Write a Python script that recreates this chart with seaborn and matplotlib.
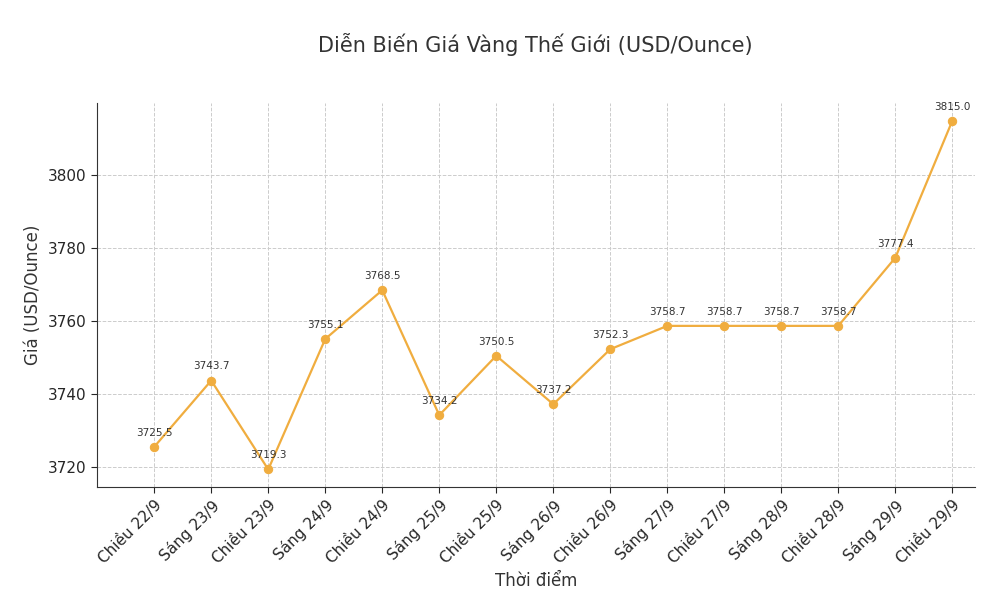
import matplotlib
matplotlib.use("Agg")
import matplotlib.pyplot as plt
import seaborn as sns
import pandas as pd

labels = ["Chiều 22/9","Sáng 23/9","Chiều 23/9","Sáng 24/9","Chiều 24/9","Sáng 25/9","Chiều 25/9",
          "Sáng 26/9","Chiều 26/9","Sáng 27/9","Chiều 27/9","Sáng 28/9","Chiều 28/9","Sáng 29/9","Chiều 29/9"]
prices = [3725.5,3743.7,3719.3,3755.1,3768.5,3734.2,3750.5,3737.2,3752.3,3758.7,3758.7,3758.7,3758.7,3777.4,3815.0]

sns.set_style("white")
plt.rcParams['font.family'] = ['DejaVu Sans']
df = pd.DataFrame({"x": range(len(labels)), "y": prices})
fig = plt.figure(figsize=(9.92, 5.96), dpi=100)
ax = fig.add_axes([0.098, 0.183, 0.885, 0.645])
color = "#F0AD3F"
sns.lineplot(data=df, x="x", y="y", ax=ax, color=color, marker="o", markersize=6,
             markeredgecolor=color, linewidth=1.6)
for i, v in enumerate(prices):
    ax.annotate(f"{v:.1f}", (i, v), textcoords="offset points", xytext=(0, 8), ha="center",
                fontsize=7.5, color="#333333")
ax.set_xticks(range(len(labels)))
ax.set_xticklabels(labels, rotation=45, ha="right", rotation_mode="anchor", fontsize=11)
ax.tick_params(axis="y", labelsize=11, left=True, length=4)
ax.tick_params(axis="x", bottom=True, length=4)
ax.set_xlim(-1, 14.4)
ax.set_ylim(3714.5, 3820)
ax.set_yticks([3720, 3740, 3760, 3780, 3800])
ax.grid(True, linestyle="--", color="#cccccc", linewidth=0.7)
for s in ["top", "right"]:
    ax.spines[s].set_visible(False)
for s in ["left", "bottom"]:
    ax.spines[s].set_color("#333333")
ax.set_xlabel("Thời điểm", fontsize=12, color="#333333")
ax.set_ylabel("Giá (USD/Ounce)", fontsize=12, color="#333333")
fig.suptitle("Diễn Biến Giá Vàng Thế Giới (USD/Ounce)", fontsize=15, color="#333333", y=0.945, x=0.54)
fig.savefig("out.png", dpi=100)
